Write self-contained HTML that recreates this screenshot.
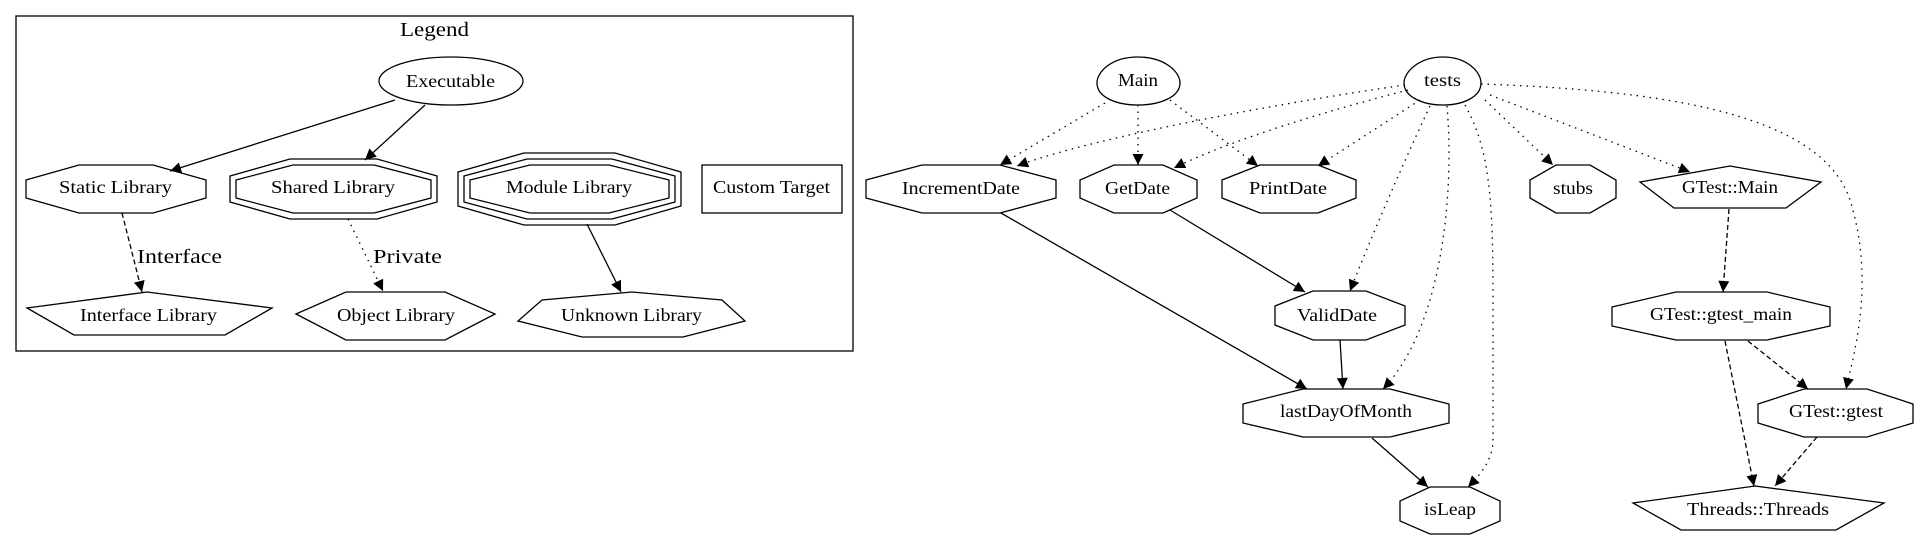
<!DOCTYPE html>
<html><head><meta charset="utf-8"><style>
html,body{margin:0;padding:0;background:#fff;}
svg{display:block;}
text{font-family:"Liberation Serif",serif;font-size:18px;fill:#000;}
</style></head><body>
<svg width="1919" height="540" viewBox="0 0 1919 540" xmlns="http://www.w3.org/2000/svg">
<defs>
<marker id="a" viewBox="0 0 10 10" refX="10" refY="5" markerUnits="userSpaceOnUse" markerWidth="13" markerHeight="11" orient="auto"><path d="M0,0 L10,5 L0,10 z" fill="#000"/></marker>
</defs>
<g fill="none" stroke="#000" stroke-width="1.3">
<rect x="16" y="16" width="837" height="335"/>
<ellipse cx="451" cy="81" rx="72" ry="24"/>
<polygon points="79,165 153,165 206,180 206,198 153,213 79,213 26,198 26,180"/>
<polygon points="293,165 374,165 431,180 431,198 374,213 293,213 236,198 236,180"/>
<polygon points="290,159 377,159 437,176 437,202 377,219 290,219 230,202 230,176"/>
<polygon points="530,165 609,165 669,180 669,198 609,213 530,213 470,198 470,180"/>
<polygon points="527,159 612,159 675,176 675,202 612,219 527,219 464,202 464,176"/>
<polygon points="524,153 615,153 681,172 681,206 615,225 524,225 458,206 458,172"/>
<rect x="702" y="165" width="140" height="48"/>
<polygon points="147,292 272,308 225,335 74,335 27,308"/>
<polygon points="296,314 346,292 445,292 495,314 445,340 346,340"/>
<polygon points="632,292 722,300 745,321 683,337 582,337 518,321 542,300"/>

<path d="M1138,57 C1165,57 1180,72 1180,83 C1180,97 1160,105 1138,105 C1116,105 1097,97 1097,83 C1097,72 1111,57 1138,57 z"/>
<path d="M1443,57 C1467,57 1481,72 1481,83 C1481,97 1463,105 1443,105 C1423,105 1404,97 1404,83 C1404,72 1419,57 1443,57 z"/>
<polygon points="922,165 1000,165 1056,180 1056,198 1000,213 922,213 866,198 866,180"/>
<polygon points="1114,165 1163,165 1197,180 1197,198 1163,213 1114,213 1080,198 1080,180"/>
<polygon points="1260,165 1318,165 1356,180 1356,198 1318,213 1260,213 1222,198 1222,180"/>
<polygon points="1556,165 1590,165 1616,180 1616,198 1590,213 1556,213 1530,198 1530,180"/>
<polygon points="1730,166 1821,182 1786,208 1674,208 1640,182"/>
<polygon points="1313,291 1366,291 1405,306 1405,325 1366,340 1313,340 1275,325 1275,306"/>
<polygon points="1676,292 1767,292 1830,307 1830,326 1767,340 1676,340 1612,326 1612,307"/>
<polygon points="1303,389 1390,389 1449,404 1449,423 1390,437 1303,437 1243,423 1243,404"/>
<polygon points="1804,389 1867,389 1913,404 1913,423 1867,437 1804,437 1758,423 1758,404"/>
<polygon points="1430,487 1470,487 1500,501 1500,521 1470,534 1430,534 1400,521 1400,501"/>
<polygon points="1755,486 1884,503 1836,530 1681,530 1633,503"/>
</g>
<g fill="none" stroke="#000" stroke-width="1.3" marker-end="url(#a)">
<path d="M395,100 L170,171"/>
<path d="M425,105 L365,160"/>
<path d="M122,213 L142,292" stroke-dasharray="5,3"/>
<path d="M348,219 L383,291" stroke-dasharray="1.5,5"/>
<path d="M587,224 L621,292"/>
<path d="M1105,103 L1000,165" stroke-dasharray="1.5,5"/>
<path d="M1138,105 L1138,165" stroke-dasharray="1.5,5"/>
<path d="M1170,100 L1258,166" stroke-dasharray="1.5,5"/>
<path d="M1405,85 C1300,100 1100,135 1017,166" stroke-dasharray="1.5,5"/>
<path d="M1408,90 C1330,110 1230,140 1174,168" stroke-dasharray="1.5,5"/>
<path d="M1420,100 L1318,166" stroke-dasharray="1.5,5"/>
<path d="M1430,106 C1400,170 1370,240 1350,291" stroke-dasharray="1.5,5"/>
<path d="M1447,106 C1455,200 1440,330 1383,389" stroke-dasharray="1.5,5"/>
<path d="M1465,105 C1490,150 1493,200 1493,300 L1493,440 C1493,460 1480,475 1468,487" stroke-dasharray="1.5,5"/>
<path d="M1485,100 L1553,165" stroke-dasharray="1.5,5"/>
<path d="M1490,95 L1690,172" stroke-dasharray="1.5,5"/>
<path d="M1481,84 C1650,90 1820,110 1850,200 C1875,280 1855,350 1846,389" stroke-dasharray="1.5,5"/>
<path d="M1001,213 L1307,389"/>
<path d="M1170,210 L1305,292"/>
<path d="M1340,340 L1343,389"/>
<path d="M1372,438 L1428,487"/>
<path d="M1729,209 L1723,292" stroke-dasharray="5,3"/>
<path d="M1748,341 L1808,389" stroke-dasharray="5,3"/>
<path d="M1725,341 L1754,486" stroke-dasharray="5,3"/>
<path d="M1817,437 L1775,486" stroke-dasharray="5,3"/>
</g>
<g lengthAdjust="spacingAndGlyphs">
<text x="400" y="36" textLength="69" lengthAdjust="spacingAndGlyphs" style="font-size:20px">Legend</text>
<text x="406" y="87" textLength="89" lengthAdjust="spacingAndGlyphs">Executable</text>
<text x="59" y="193" textLength="113" lengthAdjust="spacingAndGlyphs">Static Library</text>
<text x="271" y="193" textLength="124" lengthAdjust="spacingAndGlyphs">Shared Library</text>
<text x="506" y="193" textLength="126" lengthAdjust="spacingAndGlyphs">Module Library</text>
<text x="713" y="193" textLength="117" lengthAdjust="spacingAndGlyphs">Custom Target</text>
<text x="137" y="263" textLength="85" lengthAdjust="spacingAndGlyphs" style="font-size:20px">Interface</text>
<text x="373" y="263" textLength="69" lengthAdjust="spacingAndGlyphs" style="font-size:20px">Private</text>
<text x="80" y="321" textLength="137" lengthAdjust="spacingAndGlyphs">Interface Library</text>
<text x="337" y="321" textLength="118" lengthAdjust="spacingAndGlyphs">Object Library</text>
<text x="561" y="321" textLength="141" lengthAdjust="spacingAndGlyphs">Unknown Library</text>
<text x="1118" y="86" textLength="40" lengthAdjust="spacingAndGlyphs">Main</text>
<text x="1424" y="86" textLength="37" lengthAdjust="spacingAndGlyphs">tests</text>
<text x="902" y="194" textLength="118" lengthAdjust="spacingAndGlyphs">IncrementDate</text>
<text x="1105" y="194" textLength="65" lengthAdjust="spacingAndGlyphs">GetDate</text>
<text x="1249" y="194" textLength="78" lengthAdjust="spacingAndGlyphs">PrintDate</text>
<text x="1553" y="194" textLength="40" lengthAdjust="spacingAndGlyphs">stubs</text>
<text x="1682" y="193" textLength="96" lengthAdjust="spacingAndGlyphs">GTest::Main</text>
<text x="1297" y="321" textLength="80" lengthAdjust="spacingAndGlyphs">ValidDate</text>
<text x="1650" y="320" textLength="142" lengthAdjust="spacingAndGlyphs">GTest::gtest_main</text>
<text x="1280" y="417" textLength="132" lengthAdjust="spacingAndGlyphs">lastDayOfMonth</text>
<text x="1789" y="417" textLength="94" lengthAdjust="spacingAndGlyphs">GTest::gtest</text>
<text x="1424" y="515" textLength="52" lengthAdjust="spacingAndGlyphs">isLeap</text>
<text x="1687" y="515" textLength="142" lengthAdjust="spacingAndGlyphs">Threads::Threads</text>
</g>
</svg>
</body></html>
